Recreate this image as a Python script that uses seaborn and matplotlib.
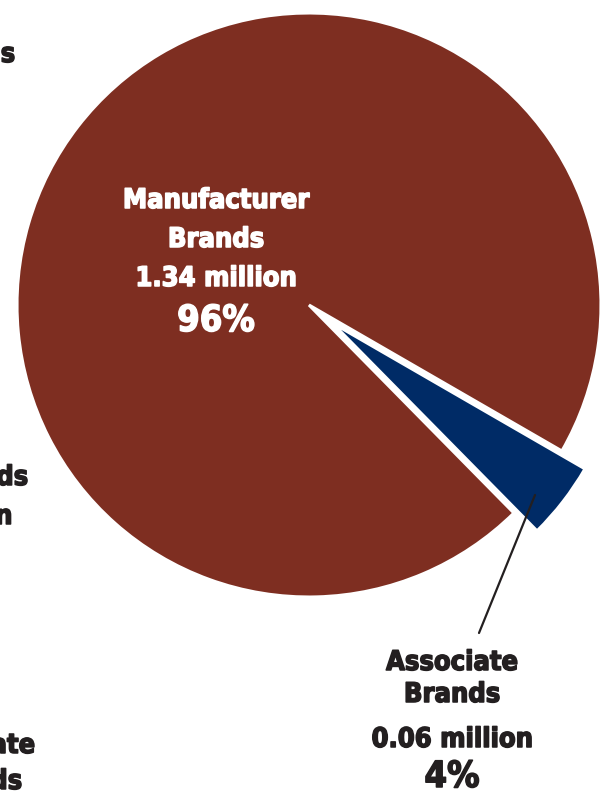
import matplotlib
matplotlib.use("Agg")
import matplotlib.pyplot as plt
import matplotlib.patheffects as pe
import seaborn as sns

# Brand split of units (millions) and shares shown on the labels
brands = ["Manufacturer\nBrands", "Associate\nBrands"]
units_million = [1.34, 0.06]
shares_pct = [96, 4]
colors = ["#7E2E21", "#002B66"]

sns.set_theme(style="white")
plt.rcParams["font.family"] = ["DejaVu Sans"]

W, H = 608, 794
R_PX = 292
cx_px, cy_px = 309, 305

fig = plt.figure(figsize=(W / 100, H / 100), dpi=100)
ax = fig.add_axes([0, 0, 1, 1])

wedges, _ = ax.pie(
    units_million,
    colors=colors,
    startangle=-30,
    counterclock=True,
    explode=[0, 0.1],
    radius=1.0,
    wedgeprops=dict(edgecolor="white", linewidth=2.2),
)
ax.set_xlim(-cx_px / R_PX, (W - cx_px) / R_PX)
ax.set_ylim(-(H - cy_px) / R_PX, cy_px / R_PX)
ax.set_aspect("equal")
ax.axis("off")

def px(x, y):
    return ((x - cx_px) / R_PX, (cy_px - y) / R_PX)

def heavy(color):
    # thicken the bold condensed face a little
    return [pe.withStroke(linewidth=1.1, foreground=color)]

txt_kw = dict(ha="center", va="center", fontweight="bold",
              fontstretch="condensed")

# Manufacturer label, inside the large slice
mx = 216
for text, y, size in [
    ("Manufacturer", 201, 19.5),
    ("Brands", 240, 19.5),
    (f"{units_million[0]:.2f} million", 279, 19.5),
    (f"{shares_pct[0]}%", 321, 26),
]:
    ax.text(*px(mx, y), text, color="white", fontsize=size,
            path_effects=heavy("white"), **txt_kw)

# Associate label, below the exploded slice
lx = 452
dark = "#231F20"
for text, y, size in [
    ("Associate", 663, 19.5),
    ("Brands", 695, 19.5),
    (f"{units_million[1]:.2f} million", 740, 19.5),
    (f"{shares_pct[1]}%", 777, 26),
]:
    ax.text(*px(lx, y), text, color=dark, fontsize=size,
            path_effects=heavy(dark), **txt_kw)

# Leader line from the small slice to its label
ax.annotate("", xy=px(535, 495), xytext=px(479, 633),
            arrowprops=dict(arrowstyle="-", color=dark, lw=1.6,
                            shrinkA=0, shrinkB=0))

# Labels of the neighbouring chart, running off the left edge
for text, x, y in [
    ("Brands", 15, 55),
    ("Brands", 28, 478),
    ("million", 12, 517),
    ("Associate", 35, 746),
    ("Brands", 22, 782),
]:
    ax.text(*px(x, y), text, color=dark, fontsize=19.5,
            ha="right", va="center", fontweight="bold",
            fontstretch="condensed", path_effects=heavy(dark))

fig.savefig("out.png", dpi=100)
